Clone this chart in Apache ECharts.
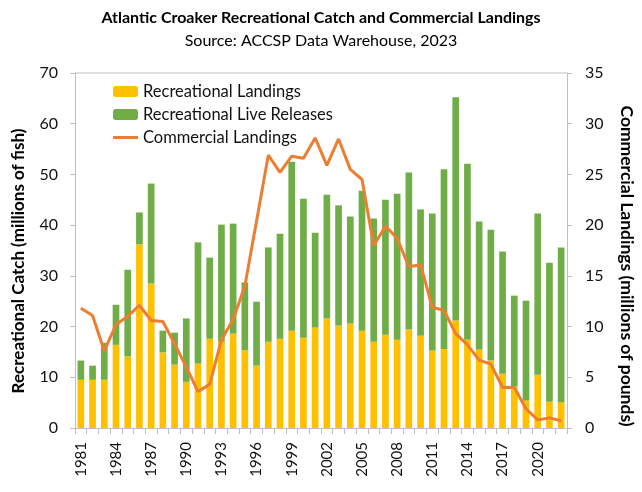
<!DOCTYPE html>
<html><head><meta charset="utf-8">
<script src="https://cdn.jsdelivr.net/npm/echarts@6/dist/echarts.min.js"></script>
<style>html,body{margin:0;padding:0;background:#fff}#c{width:642px;height:492px}</style>
</head><body><div id="c"></div>
<script>
const years = [];
for (let y = 1981; y <= 2022; y++) years.push(String(y));
const recLandings = [9.5,9.5,9.5,16.4,14.1,36.2,28.5,14.9,12.5,9.1,12.7,17.6,17.0,18.6,15.3,12.3,17.0,17.6,19.2,17.8,19.8,21.6,20.2,20.6,19.2,17.0,18.4,17.4,19.4,18.2,15.3,15.6,21.2,17.4,15.5,13.3,10.7,8.2,5.4,10.5,5.2,5.1];
const recReleases = [3.8,2.8,7.3,7.9,17.1,6.3,19.7,4.3,6.3,12.5,23.9,16.0,23.1,21.7,13.4,12.6,18.6,20.7,33.3,27.4,18.7,24.4,23.7,21.1,27.6,24.3,26.6,28.8,31.0,24.9,27.0,35.4,44.0,34.7,25.2,25.8,24.1,17.9,19.7,31.8,27.4,30.5];
const commLandings = [11.8,11.1,7.6,10.2,11.0,12.1,10.6,10.5,8.3,6.0,3.6,4.3,8.7,10.7,14.0,20.4,26.9,25.2,26.8,26.6,28.6,25.9,28.5,25.5,24.5,18.0,19.9,18.7,15.9,16.1,11.9,11.6,9.3,8.2,6.7,6.3,4.0,4.0,1.9,0.8,1.0,0.7];
const leftTicks = [0,10,20,30,40,50,60,70];
const rightTicks = [0,5,10,15,20,25,30,35];

const FONT = 'Lato';
const txt = '#111';
const axisCol = '#BFBFBF';
const chart = echarts.init(document.getElementById('c'), null, {renderer:'canvas'});
chart.setOption({
  animation:false,
  textStyle:{fontFamily:FONT},
  title:{
    text:'Atlantic Croaker Recreational Catch and Commercial Landings',
    subtext:'Source: ACCSP Data Warehouse, 2023',
    left:'center', top:5, itemGap:7,
    textStyle:{fontFamily:FONT,fontSize:16,fontWeight:'bold',color:'#000'},
    subtextStyle:{fontFamily:FONT,fontSize:16,color:'#000'}
  },
  legend:{
    orient:'vertical', left:108, top:78, itemWidth:25, itemHeight:11, itemGap:6,
    textStyle:{fontFamily:FONT,fontSize:16.5,color:txt},
    data:[
      {name:'Recreational Landings'},
      {name:'Recreational Live Releases'},
      {name:'Commercial Landings',icon:'path://M0,0 L25,0 L25,3 L0,3 Z'}
    ]
  },
  grid:{left:75,right:75,top:73,bottom:64},
  xAxis:{
    type:'category', data:years, boundaryGap:true,
    axisLine:{lineStyle:{color:axisCol}},
    axisTick:{show:true,interval:0,length:6,lineStyle:{color:axisCol}},
    axisLabel:{rotate:90,interval:2,fontSize:15,color:txt,fontFamily:FONT,margin:14}
  },
  yAxis:[{
    type:'value', min:0, max:70, interval:10,
    axisLine:{show:true,lineStyle:{color:axisCol}},
    axisTick:{show:true,length:5,lineStyle:{color:axisCol}},
    splitLine:{show:false},
    axisLabel:{fontSize:16,color:txt,fontFamily:FONT,margin:17,
      formatter:v=>leftTicks.includes(v)?String(v):''}
  },{
    type:'value', min:0, max:35, interval:5,
    axisLine:{show:true,lineStyle:{color:axisCol}},
    axisTick:{show:true,length:5,lineStyle:{color:axisCol}},
    splitLine:{show:false},
    axisLabel:{fontSize:16,color:txt,fontFamily:FONT,margin:18,
      formatter:v=>rightTicks.includes(v)?String(v):''}
  }],
  graphic:[
    {type:'line',shape:{x1:75,y1:73,x2:567,y2:73},style:{stroke:axisCol,lineWidth:1},silent:true},
    {type:'text',x:19,y:261,rotation:Math.PI/2,style:{text:'Recreational Catch (millions of fish)',fontFamily:FONT,fontSize:17,fontWeight:'bold',fill:'#000',align:'center',verticalAlign:'middle'}},
    {type:'text',x:627,y:266,rotation:-Math.PI/2,style:{text:'Commercial Landings (millions of pounds)',fontFamily:FONT,fontSize:17.5,fontWeight:'bold',fill:'#000',align:'center',verticalAlign:'middle'}}
  ],
  series:[
    {name:'Recreational Landings',type:'bar',stack:'rec',data:recLandings,barCategoryGap:'43%',itemStyle:{color:'#FFC000'}},
    {name:'Recreational Live Releases',type:'bar',stack:'rec',data:recReleases,itemStyle:{color:'#70AD47'}},
    {name:'Commercial Landings',type:'line',yAxisIndex:1,data:commLandings,symbol:'none',lineStyle:{color:'#ED7D31',width:3},itemStyle:{color:'#ED7D31'}}
  ]
});
</script></body></html>
